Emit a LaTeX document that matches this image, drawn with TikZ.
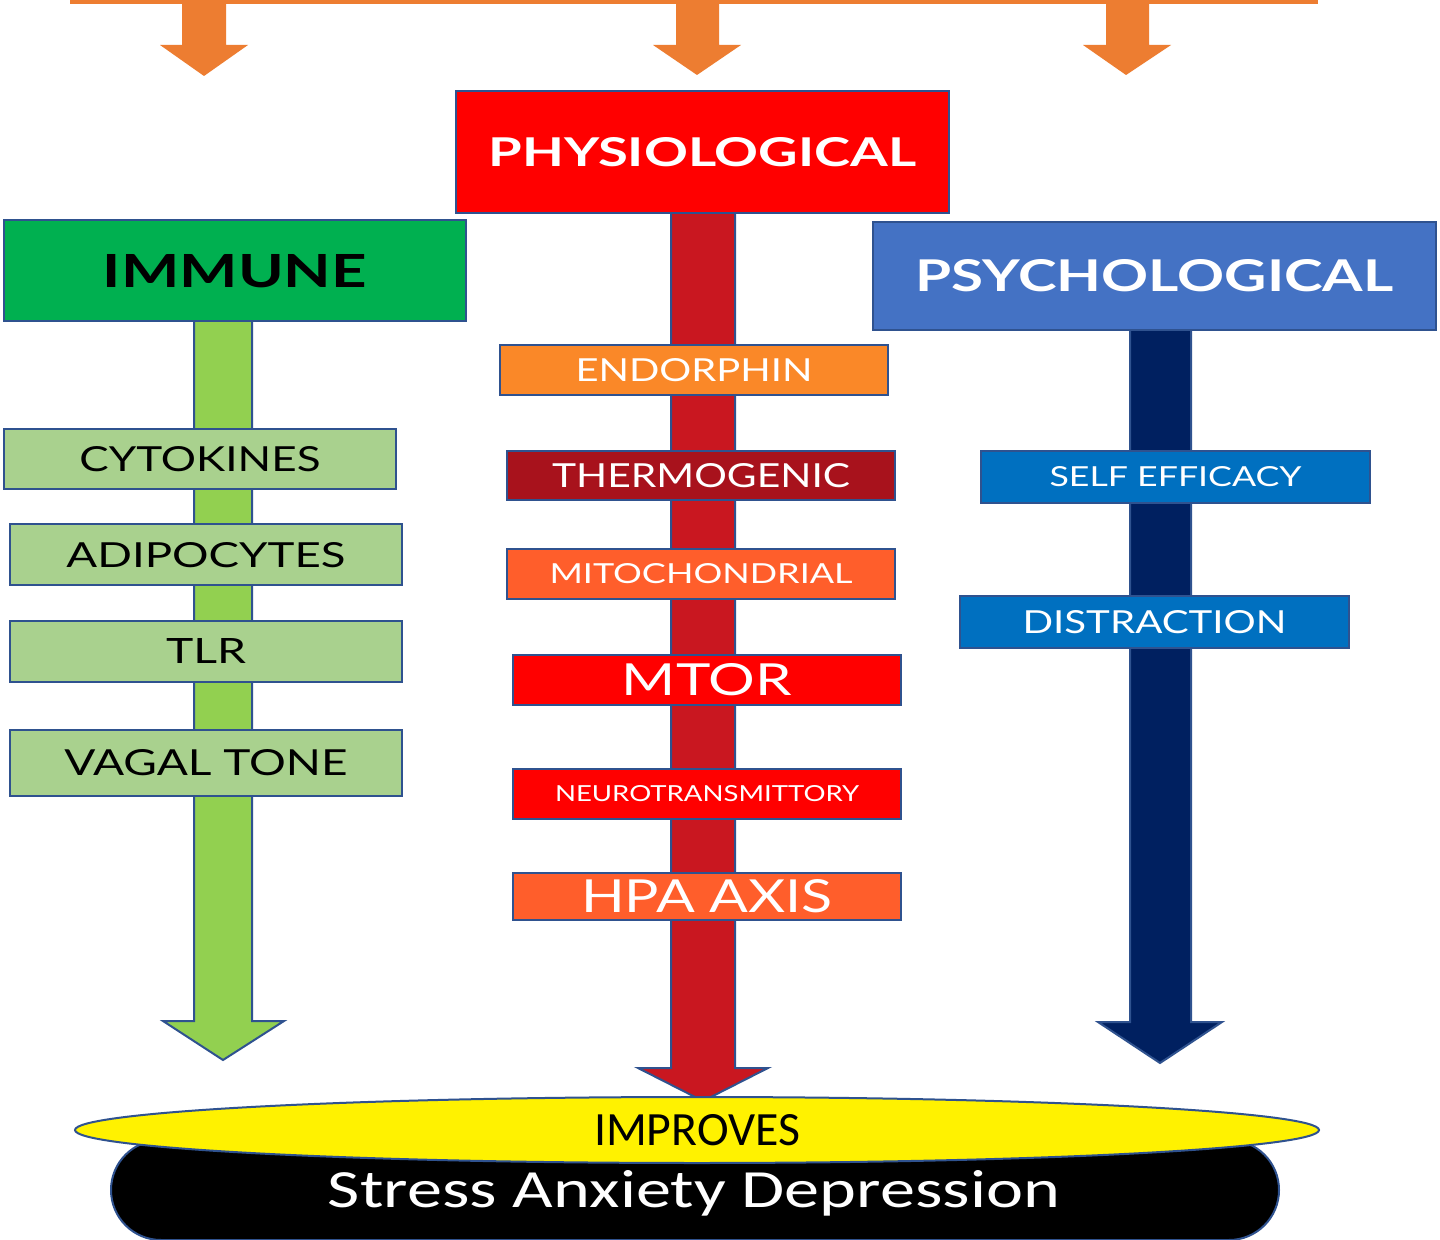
\documentclass[tikz,border=0pt]{standalone}
\usepackage{fontspec}
\setmainfont{Lato}
\newfontfamily\calibrifont{Carlito}
\usetikzlibrary{shapes.geometric}

\definecolor{arroworange}{RGB}{237,125,49}
\definecolor{edgeblue}{RGB}{47,82,143}
\definecolor{physred}{RGB}{255,0,0}
\definecolor{immgreen}{RGB}{0,176,80}
\definecolor{psyblue}{RGB}{68,114,196}
\definecolor{limegreen}{RGB}{146,208,80}
\definecolor{palegreen}{RGB}{169,209,142}
\definecolor{shaftred}{RGB}{201,23,32}
\definecolor{navy}{RGB}{0,32,96}
\definecolor{endorange}{RGB}{250,136,40}
\definecolor{darkred}{RGB}{168,18,28}
\definecolor{redorange}{RGB}{255,94,43}
\definecolor{itemblue}{RGB}{0,112,192}

% set a label to a given width and height above the baseline
\newcommand{\capsto}[3]{\resizebox{#1}{#2}{#3}}
% set a label to a given width, keeping its proportions
\newcommand{\fitto}[2]{\resizebox{#1}{!}{#2}}

\begin{document}
\begin{tikzpicture}[x=0.5pt,y=-0.5pt,
  outline/.style={draw=edgeblue, line width=1pt},
  blockbox/.style={rectangle, outline, inner sep=0pt, align=center},
  feed/.style={fill=arroworange, draw=none}]

\useasboundingbox[fill=white] (0,0) rectangle (1440,1240);

% feed bar and the three downward arrows
\fill[arroworange] (70,-2) rectangle (1318,4);
\path[feed] (182,0) -- (226,0) -- (226,45) -- (248,45) -- (204,76) -- (160,45) -- (182,45) -- cycle;
\path[feed] (676,0) -- (719,0) -- (719,45) -- (741,45) -- (697,75) -- (653,45) -- (676,45) -- cycle;
\path[feed] (1106,0) -- (1149,0) -- (1149,45) -- (1171,45) -- (1126,75) -- (1083,45) -- (1106,45) -- cycle;

% column shafts (block arrows)
\path[outline, fill=limegreen] (194,320) -- (252,320) -- (252,1021) -- (284,1021) -- (223,1060) -- (163,1021) -- (194,1021) -- cycle;
\path[outline, fill=shaftred] (671,212) -- (735,212) -- (735,1068) -- (768,1068) -- (703,1101) -- (638,1068) -- (671,1068) -- cycle;
\path[outline, fill=navy] (1130,327) -- (1191,327) -- (1191,1022) -- (1222,1022) -- (1160,1063) -- (1098,1022) -- (1130,1022) -- cycle;

% headers
\node[blockbox, fill=physred, minimum width=246.5pt, minimum height=61pt] (phys) at (702.5,152)
  {\capsto{214pt}{14.5pt}{\color{white}\bfseries PHYSIOLOGICAL}};
\node[blockbox, fill=immgreen, minimum width=231pt, minimum height=50.5pt] (immune) at (235,271)
  {\capsto{132pt}{16.5pt}{\color{black}\bfseries IMMUNE}};
\node[blockbox, fill=psyblue, minimum width=281.5pt, minimum height=54pt] (psych) at (1154.5,276)
  {\capsto{239pt}{16pt}{\color{white}\bfseries PSYCHOLOGICAL}};

% immune column
\node[blockbox, fill=palegreen, minimum width=196pt, minimum height=30pt] (cyto) at (200,459)
  {\capsto{120.5pt}{12.5pt}{CYTOKINES}};
\node[blockbox, fill=palegreen, minimum width=196pt, minimum height=30.5pt] (adipo) at (206,555)
  {\capsto{139.5pt}{12.5pt}{ADIPOCYTES}};
\node[blockbox, fill=palegreen, minimum width=196pt, minimum height=30.5pt] (tlr) at (206,651)
  {\capsto{40pt}{12.5pt}{TLR}};
\node[blockbox, fill=palegreen, minimum width=196pt, minimum height=33pt] (vagal) at (206,763)
  {\capsto{141.5pt}{13pt}{VAGAL TONE}};

% physiological column
\node[blockbox, fill=endorange, minimum width=194pt, minimum height=25pt] (endo) at (694,370)
  {\capsto{118.5pt}{11.5pt}{\color{white}ENDORPHIN}};
\node[blockbox, fill=darkred, minimum width=194pt, minimum height=24.5pt] (thermo) at (701,476)
  {\capsto{149pt}{12pt}{\color{white}THERMOGENIC}};
\node[blockbox, fill=redorange, minimum width=194pt, minimum height=25pt] (mito) at (701,574)
  {\capsto{151.5pt}{10pt}{\color{white}MITOCHONDRIAL}};
\node[blockbox, fill=physred, minimum width=194pt, minimum height=25pt] (mtor) at (707,680)
  {\capsto{85pt}{16pt}{\color{white}MTOR}};
\node[blockbox, fill=physred, minimum width=194pt, minimum height=25pt] (neuro) at (707,794)
  {\capsto{152pt}{8pt}{\color{white}NEUROTRANSMITTORY}};
\node[blockbox, fill=redorange, minimum width=194pt, minimum height=23.5pt] (hpa) at (707,896)
  {\capsto{126pt}{16.5pt}{\color{white}HPA AXIS}};

% psychological column
\node[blockbox, fill=itemblue, minimum width=194.5pt, minimum height=26pt] (selfeff) at (1175.5,477)
  {\capsto{126pt}{10pt}{\color{white}SELF EFFICACY}};
\node[blockbox, fill=itemblue, minimum width=194.5pt, minimum height=26pt] (distr) at (1154.5,622)
  {\capsto{132pt}{11.5pt}{\color{white}DISTRACTION}};

% outcome
\node[rectangle, rounded corners=25pt, outline, fill=black, minimum width=584pt, minimum height=50pt, inner sep=0pt] (outcome) at (695,1190) {};
\node[anchor=base, inner sep=0pt, text=white] (outcomelabel) at (694,1207)
  {\capsto{366pt}{18.5pt}{\calibrifont Stress Anxiety Depression}};
\node[ellipse, outline, fill=yellow, minimum width=622pt, minimum height=33pt, inner sep=0pt] (improves) at (697,1130)
  {\fitto{103pt}{\calibrifont IMPROVES}};

\end{tikzpicture}
\end{document}
